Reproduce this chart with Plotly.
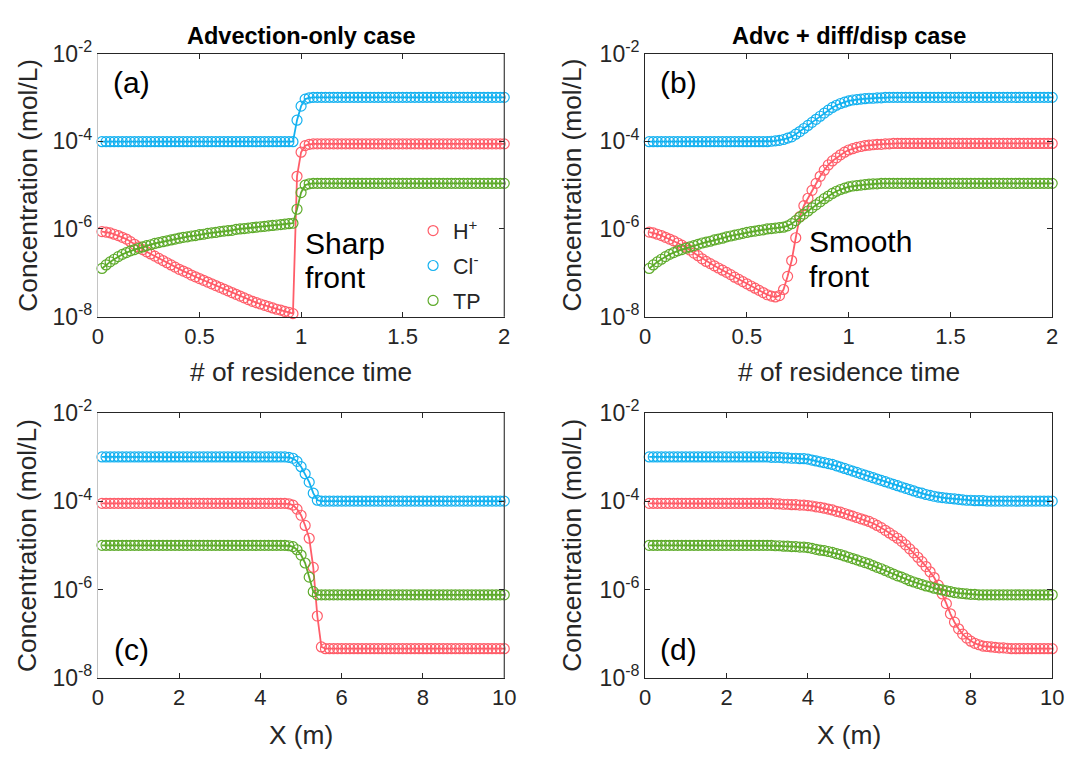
import numpy as np
import plotly.graph_objects as go

# ---------------- data (concentrations read as log10 values) ----------------
# sample positions: residence time (panels a, b) and distance X in m (panels c, d)
x_time = [0.02, 0.04, 0.06, 0.08, 0.10, 0.12, 0.14, 0.16, 0.18, 0.20,
          0.22, 0.24, 0.26, 0.28, 0.30, 0.32, 0.34, 0.36, 0.38, 0.40,
          0.42, 0.44, 0.46, 0.48, 0.50, 0.52, 0.54, 0.56, 0.58, 0.60,
          0.62, 0.64, 0.66, 0.68, 0.70, 0.72, 0.74, 0.76, 0.78, 0.80,
          0.82, 0.84, 0.86, 0.88, 0.90, 0.92, 0.94, 0.96, 0.98, 1.00,
          1.02, 1.04, 1.06, 1.08, 1.10, 1.12, 1.14, 1.16, 1.18, 1.20,
          1.22, 1.24, 1.26, 1.28, 1.30, 1.32, 1.34, 1.36, 1.38, 1.40,
          1.42, 1.44, 1.46, 1.48, 1.50, 1.52, 1.54, 1.56, 1.58, 1.60,
          1.62, 1.64, 1.66, 1.68, 1.70, 1.72, 1.74, 1.76, 1.78, 1.80,
          1.82, 1.84, 1.86, 1.88, 1.90, 1.92, 1.94, 1.96, 1.98, 2.00]

x_dist = [0.1, 0.2, 0.3, 0.4, 0.5, 0.6, 0.7, 0.8, 0.9, 1.0,
          1.1, 1.2, 1.3, 1.4, 1.5, 1.6, 1.7, 1.8, 1.9, 2.0,
          2.1, 2.2, 2.3, 2.4, 2.5, 2.6, 2.7, 2.8, 2.9, 3.0,
          3.1, 3.2, 3.3, 3.4, 3.5, 3.6, 3.7, 3.8, 3.9, 4.0,
          4.1, 4.2, 4.3, 4.4, 4.5, 4.6, 4.7, 4.8, 4.9, 5.0,
          5.1, 5.2, 5.3, 5.4, 5.5, 5.6, 5.7, 5.8, 5.9, 6.0,
          6.1, 6.2, 6.3, 6.4, 6.5, 6.6, 6.7, 6.8, 6.9, 7.0,
          7.1, 7.2, 7.3, 7.4, 7.5, 7.6, 7.7, 7.8, 7.9, 8.0,
          8.1, 8.2, 8.3, 8.4, 8.5, 8.6, 8.7, 8.8, 8.9, 9.0,
          9.1, 9.2, 9.3, 9.4, 9.5, 9.6, 9.7, 9.8, 9.9, 10.0]

# (a) advection-only, vs residence time
h_a_log10 = [-6.06, -6.07, -6.09, -6.12, -6.15, -6.19, -6.23, -6.29, -6.35, -6.41,
             -6.47, -6.52, -6.57, -6.62, -6.67, -6.72, -6.77, -6.82, -6.87, -6.92,
             -6.96, -7.00, -7.05, -7.09, -7.13, -7.17, -7.21, -7.25, -7.29, -7.33,
             -7.37, -7.41, -7.45, -7.49, -7.53, -7.57, -7.61, -7.65, -7.68, -7.71,
             -7.74, -7.77, -7.80, -7.83, -7.85, -7.88, -7.90, -7.93, -4.80, -4.25,
             -4.10, -4.07, -4.06, -4.06, -4.06, -4.06, -4.06, -4.06, -4.06, -4.06,
             -4.06, -4.06, -4.06, -4.06, -4.06, -4.06, -4.06, -4.06, -4.06, -4.06,
             -4.06, -4.06, -4.06, -4.06, -4.06, -4.06, -4.06, -4.06, -4.06, -4.06,
             -4.06, -4.06, -4.06, -4.06, -4.06, -4.06, -4.06, -4.06, -4.06, -4.06,
             -4.06, -4.06, -4.06, -4.06, -4.06, -4.06, -4.06, -4.06, -4.06, -4.06]
cl_a_log10 = [-4.01, -4.01, -4.01, -4.01, -4.01, -4.01, -4.01, -4.01, -4.01, -4.01,
              -4.01, -4.01, -4.01, -4.01, -4.01, -4.01, -4.01, -4.01, -4.01, -4.01,
              -4.01, -4.01, -4.01, -4.01, -4.01, -4.01, -4.01, -4.01, -4.01, -4.01,
              -4.01, -4.01, -4.01, -4.01, -4.01, -4.01, -4.01, -4.01, -4.01, -4.01,
              -4.01, -4.01, -4.01, -4.01, -4.01, -4.01, -4.01, -4.01, -3.52, -3.20,
              -3.04, -3.01, -3.00, -3.00, -3.00, -3.00, -3.00, -3.00, -3.00, -3.00,
              -3.00, -3.00, -3.00, -3.00, -3.00, -3.00, -3.00, -3.00, -3.00, -3.00,
              -3.00, -3.00, -3.00, -3.00, -3.00, -3.00, -3.00, -3.00, -3.00, -3.00,
              -3.00, -3.00, -3.00, -3.00, -3.00, -3.00, -3.00, -3.00, -3.00, -3.00,
              -3.00, -3.00, -3.00, -3.00, -3.00, -3.00, -3.00, -3.00, -3.00, -3.00]
tp_a_log10 = [-6.90, -6.82, -6.75, -6.69, -6.63, -6.58, -6.54, -6.50, -6.47, -6.44,
              -6.41, -6.38, -6.36, -6.33, -6.31, -6.29, -6.27, -6.25, -6.23, -6.21,
              -6.19, -6.18, -6.16, -6.15, -6.13, -6.12, -6.10, -6.09, -6.08, -6.06,
              -6.05, -6.04, -6.03, -6.01, -6.00, -5.99, -5.98, -5.97, -5.96, -5.95,
              -5.94, -5.93, -5.92, -5.91, -5.90, -5.89, -5.88, -5.87, -5.55, -5.17,
              -5.00, -4.97, -4.96, -4.96, -4.96, -4.96, -4.96, -4.96, -4.96, -4.96,
              -4.96, -4.96, -4.96, -4.96, -4.96, -4.96, -4.96, -4.96, -4.96, -4.96,
              -4.96, -4.96, -4.96, -4.96, -4.96, -4.96, -4.96, -4.96, -4.96, -4.96,
              -4.96, -4.96, -4.96, -4.96, -4.96, -4.96, -4.96, -4.96, -4.96, -4.96,
              -4.96, -4.96, -4.96, -4.96, -4.96, -4.96, -4.96, -4.96, -4.96, -4.96]

# (b) advection + diffusion/dispersion, vs residence time
h_b_log10 = [-6.07, -6.09, -6.12, -6.15, -6.19, -6.23, -6.27, -6.32, -6.37, -6.42,
             -6.48, -6.55, -6.61, -6.68, -6.74, -6.79, -6.84, -6.89, -6.94, -6.99,
             -7.04, -7.10, -7.15, -7.20, -7.25, -7.30, -7.35, -7.40, -7.45, -7.50,
             -7.53, -7.55, -7.52, -7.38, -7.08, -6.72, -6.20, -5.72, -5.47, -5.30,
             -5.12, -4.96, -4.80, -4.66, -4.54, -4.45, -4.38, -4.31, -4.25, -4.20,
             -4.17, -4.14, -4.12, -4.10, -4.09, -4.08, -4.07, -4.07, -4.06, -4.06,
             -4.05, -4.05, -4.05, -4.05, -4.05, -4.05, -4.05, -4.05, -4.05, -4.05,
             -4.05, -4.05, -4.05, -4.05, -4.05, -4.05, -4.05, -4.05, -4.05, -4.05,
             -4.05, -4.05, -4.05, -4.05, -4.05, -4.05, -4.05, -4.05, -4.05, -4.05,
             -4.05, -4.05, -4.05, -4.05, -4.05, -4.05, -4.05, -4.05, -4.05, -4.05]
cl_b_log10 = [-4.01, -4.01, -4.01, -4.01, -4.01, -4.01, -4.01, -4.01, -4.01, -4.01,
              -4.01, -4.01, -4.01, -4.01, -4.01, -4.01, -4.01, -4.01, -4.01, -4.01,
              -4.01, -4.01, -4.01, -4.01, -4.01, -4.01, -4.01, -4.01, -4.01, -4.01,
              -4.00, -3.99, -3.98, -3.96, -3.93, -3.90, -3.84, -3.78, -3.71, -3.64,
              -3.57, -3.50, -3.43, -3.36, -3.29, -3.23, -3.18, -3.14, -3.11, -3.08,
              -3.06, -3.05, -3.04, -3.03, -3.02, -3.02, -3.01, -3.01, -3.00, -3.00,
              -3.00, -3.00, -3.00, -3.00, -3.00, -3.00, -3.00, -3.00, -3.00, -3.00,
              -3.00, -3.00, -3.00, -3.00, -3.00, -3.00, -3.00, -3.00, -3.00, -3.00,
              -3.00, -3.00, -3.00, -3.00, -3.00, -3.00, -3.00, -3.00, -3.00, -3.00,
              -3.00, -3.00, -3.00, -3.00, -3.00, -3.00, -3.00, -3.00, -3.00, -3.00]
tp_b_log10 = [-6.90, -6.82, -6.75, -6.69, -6.63, -6.58, -6.54, -6.50, -6.47, -6.44,
              -6.41, -6.38, -6.35, -6.32, -6.30, -6.28, -6.25, -6.23, -6.21, -6.18,
              -6.16, -6.14, -6.12, -6.10, -6.08, -6.06, -6.05, -6.03, -6.02, -6.00,
              -5.99, -5.98, -5.97, -5.96, -5.93, -5.88, -5.81, -5.73, -5.66, -5.59,
              -5.52, -5.45, -5.38, -5.31, -5.25, -5.19, -5.14, -5.10, -5.07, -5.04,
              -5.02, -5.01, -5.00, -4.99, -4.98, -4.97, -4.97, -4.96, -4.96, -4.96,
              -4.96, -4.96, -4.96, -4.96, -4.96, -4.96, -4.96, -4.96, -4.96, -4.96,
              -4.96, -4.96, -4.96, -4.96, -4.96, -4.96, -4.96, -4.96, -4.96, -4.96,
              -4.96, -4.96, -4.96, -4.96, -4.96, -4.96, -4.96, -4.96, -4.96, -4.96,
              -4.96, -4.96, -4.96, -4.96, -4.96, -4.96, -4.96, -4.96, -4.96, -4.96]

# (c) advection-only, vs X
h_c_log10 = [-4.05, -4.05, -4.05, -4.05, -4.05, -4.05, -4.05, -4.05, -4.05, -4.05,
             -4.05, -4.05, -4.05, -4.05, -4.05, -4.05, -4.05, -4.05, -4.05, -4.05,
             -4.05, -4.05, -4.05, -4.05, -4.05, -4.05, -4.05, -4.05, -4.05, -4.05,
             -4.05, -4.05, -4.05, -4.05, -4.05, -4.05, -4.05, -4.05, -4.05, -4.05,
             -4.05, -4.05, -4.05, -4.05, -4.05, -4.05, -4.06, -4.09, -4.18, -4.32,
             -4.55, -4.84, -5.50, -6.60, -7.30, -7.34, -7.34, -7.34, -7.34, -7.34,
             -7.34, -7.34, -7.34, -7.34, -7.34, -7.34, -7.34, -7.34, -7.34, -7.34,
             -7.34, -7.34, -7.34, -7.34, -7.34, -7.34, -7.34, -7.34, -7.34, -7.34,
             -7.34, -7.34, -7.34, -7.34, -7.34, -7.34, -7.34, -7.34, -7.34, -7.34,
             -7.34, -7.34, -7.34, -7.34, -7.34, -7.34, -7.34, -7.34, -7.34, -7.34]
cl_c_log10 = [-3.00, -3.00, -3.00, -3.00, -3.00, -3.00, -3.00, -3.00, -3.00, -3.00,
              -3.00, -3.00, -3.00, -3.00, -3.00, -3.00, -3.00, -3.00, -3.00, -3.00,
              -3.00, -3.00, -3.00, -3.00, -3.00, -3.00, -3.00, -3.00, -3.00, -3.00,
              -3.00, -3.00, -3.00, -3.00, -3.00, -3.00, -3.00, -3.00, -3.00, -3.00,
              -3.00, -3.00, -3.00, -3.00, -3.00, -3.00, -3.01, -3.03, -3.10, -3.22,
              -3.38, -3.57, -3.82, -3.98, -4.00, -4.00, -4.00, -4.00, -4.00, -4.00,
              -4.00, -4.00, -4.00, -4.00, -4.00, -4.00, -4.00, -4.00, -4.00, -4.00,
              -4.00, -4.00, -4.00, -4.00, -4.00, -4.00, -4.00, -4.00, -4.00, -4.00,
              -4.00, -4.00, -4.00, -4.00, -4.00, -4.00, -4.00, -4.00, -4.00, -4.00,
              -4.00, -4.00, -4.00, -4.00, -4.00, -4.00, -4.00, -4.00, -4.00, -4.00]
tp_c_log10 = [-5.00, -5.00, -5.00, -5.00, -5.00, -5.00, -5.00, -5.00, -5.00, -5.00,
              -5.00, -5.00, -5.00, -5.00, -5.00, -5.00, -5.00, -5.00, -5.00, -5.00,
              -5.00, -5.00, -5.00, -5.00, -5.00, -5.00, -5.00, -5.00, -5.00, -5.00,
              -5.00, -5.00, -5.00, -5.00, -5.00, -5.00, -5.00, -5.00, -5.00, -5.00,
              -5.00, -5.00, -5.00, -5.00, -5.00, -5.00, -5.01, -5.03, -5.10, -5.22,
              -5.40, -5.72, -6.05, -6.12, -6.12, -6.12, -6.12, -6.12, -6.12, -6.12,
              -6.12, -6.12, -6.12, -6.12, -6.12, -6.12, -6.12, -6.12, -6.12, -6.12,
              -6.12, -6.12, -6.12, -6.12, -6.12, -6.12, -6.12, -6.12, -6.12, -6.12,
              -6.12, -6.12, -6.12, -6.12, -6.12, -6.12, -6.12, -6.12, -6.12, -6.12,
              -6.12, -6.12, -6.12, -6.12, -6.12, -6.12, -6.12, -6.12, -6.12, -6.12]

# (d) advection + diffusion/dispersion, vs X
h_d_log10 = [-4.05, -4.05, -4.05, -4.05, -4.05, -4.05, -4.05, -4.05, -4.05, -4.05,
             -4.05, -4.05, -4.05, -4.05, -4.05, -4.05, -4.05, -4.05, -4.05, -4.05,
             -4.05, -4.05, -4.05, -4.05, -4.05, -4.05, -4.05, -4.05, -4.05, -4.05,
             -4.05, -4.06, -4.06, -4.07, -4.07, -4.08, -4.08, -4.09, -4.09, -4.10,
             -4.11, -4.13, -4.14, -4.16, -4.18, -4.20, -4.23, -4.25, -4.28, -4.31,
             -4.34, -4.37, -4.40, -4.43, -4.46, -4.50, -4.55, -4.60, -4.66, -4.72,
             -4.78, -4.84, -4.91, -4.99, -5.08, -5.17, -5.27, -5.37, -5.48, -5.60,
             -5.73, -5.90, -6.10, -6.32, -6.55, -6.74, -6.89, -7.01, -7.10, -7.17,
             -7.22, -7.25, -7.28, -7.29, -7.30, -7.31, -7.32, -7.32, -7.33, -7.34,
             -7.34, -7.34, -7.34, -7.34, -7.34, -7.34, -7.34, -7.34, -7.34, -7.34]
cl_d_log10 = [-3.00, -3.00, -3.00, -3.00, -3.00, -3.00, -3.00, -3.00, -3.00, -3.00,
              -3.00, -3.00, -3.00, -3.00, -3.00, -3.00, -3.00, -3.00, -3.00, -3.00,
              -3.00, -3.00, -3.00, -3.00, -3.00, -3.00, -3.00, -3.00, -3.00, -3.00,
              -3.01, -3.01, -3.01, -3.02, -3.02, -3.03, -3.03, -3.04, -3.04, -3.05,
              -3.07, -3.09, -3.11, -3.13, -3.15, -3.17, -3.20, -3.23, -3.26, -3.29,
              -3.32, -3.35, -3.38, -3.41, -3.44, -3.47, -3.50, -3.53, -3.56, -3.59,
              -3.62, -3.65, -3.68, -3.71, -3.74, -3.77, -3.80, -3.82, -3.85, -3.87,
              -3.89, -3.91, -3.92, -3.93, -3.94, -3.95, -3.96, -3.97, -3.98, -3.98,
              -3.99, -3.99, -3.99, -4.00, -4.00, -4.00, -4.00, -4.00, -4.00, -4.00,
              -4.00, -4.00, -4.00, -4.00, -4.00, -4.00, -4.00, -4.00, -4.00, -4.00]
tp_d_log10 = [-5.00, -5.00, -5.00, -5.00, -5.00, -5.00, -5.00, -5.00, -5.00, -5.00,
              -5.00, -5.00, -5.00, -5.00, -5.00, -5.00, -5.00, -5.00, -5.00, -5.00,
              -5.00, -5.00, -5.00, -5.00, -5.00, -5.00, -5.00, -5.00, -5.00, -5.00,
              -5.00, -5.01, -5.01, -5.02, -5.02, -5.03, -5.03, -5.04, -5.04, -5.05,
              -5.07, -5.09, -5.11, -5.12, -5.14, -5.16, -5.19, -5.21, -5.24, -5.27,
              -5.30, -5.33, -5.36, -5.39, -5.42, -5.46, -5.50, -5.53, -5.57, -5.61,
              -5.65, -5.69, -5.72, -5.76, -5.80, -5.83, -5.86, -5.89, -5.92, -5.94,
              -5.97, -5.99, -6.01, -6.03, -6.05, -6.07, -6.08, -6.09, -6.10, -6.11,
              -6.11, -6.12, -6.12, -6.12, -6.12, -6.12, -6.12, -6.12, -6.12, -6.12,
              -6.12, -6.12, -6.12, -6.12, -6.12, -6.12, -6.12, -6.12, -6.12, -6.12]

series_names = ["H<sup>+</sup>", "Cl<sup>-</sup>", "TP"]
series_colors = ["#FF5D69", "#14B1F0", "#5EAB2B"]

y_tickvals = [1e-8, 1e-6, 1e-4, 1e-2]
y_ticktext = ["10<sup>-8</sup>", "10<sup>-6</sup>", "10<sup>-4</sup>", "10<sup>-2</sup>"]
x_time_ticks = [0, 0.5, 1, 1.5, 2]
x_time_text = ["0", "0.5", "1", "1.5", "2"]
x_dist_ticks = [0, 2, 4, 6, 8, 10]
x_dist_text = ["0", "2", "4", "6", "8", "10"]

# ---------------- figure ----------------
FONT = "Arial, Liberation Sans, Helvetica, sans-serif"
INK = "#262626"
W, H = 1076, 761

panels = [
    (x_time, [h_a_log10, cl_a_log10, tp_a_log10], ""),
    (x_time, [h_b_log10, cl_b_log10, tp_b_log10], "2"),
    (x_dist, [h_c_log10, cl_c_log10, tp_c_log10], "3"),
    (x_dist, [h_d_log10, cl_d_log10, tp_d_log10], "4"),
]

fig = go.Figure()
for p, (xs, ys_list, sfx) in enumerate(panels):
    for k, ylog in enumerate(ys_list):
        conc = 10.0 ** np.array(ylog)
        fig.add_trace(go.Scatter(
            x=xs, y=conc, mode="lines",
            line=dict(color=series_colors[k], width=1.8),
            xaxis="x" + sfx, yaxis="y" + sfx, legendgroup="s%d" % k,
            showlegend=False, hoverinfo="skip", cliponaxis=False))
        fig.add_trace(go.Scatter(
            x=xs, y=conc, mode="markers", name=series_names[k],
            marker=dict(symbol="circle-open", size=10, color=series_colors[k],
                        line=dict(width=1.2, color=series_colors[k])),
            xaxis="x" + sfx, yaxis="y" + sfx, legendgroup="s%d" % k,
            showlegend=(p == 0), cliponaxis=False))

# axis boxes in pixels
left_x = [93.5, 506.7]
right_x = [650, 1064]
top_y = [38, 312]
bot_y = [412, 688]


def xdom(px):
    return [px[0] / W, px[1] / W]


def ydom(py):
    return [1 - py[1] / H, 1 - py[0] / H]


def xaxis_cfg(dom, anchor, rng, tv, tt):
    return dict(domain=dom, anchor=anchor, range=rng, tickvals=tv, ticktext=tt,
                showline=True, linecolor=INK, linewidth=1, mirror="ticks",
                ticks="inside", ticklen=5, tickwidth=1, tickcolor=INK,
                showgrid=False, zeroline=False,
                tickfont=dict(family=FONT, size=22, color=INK))


def yaxis_cfg(dom, anchor, linecolor):
    return dict(domain=dom, anchor=anchor, type="log", range=[-8, -2],
                tickvals=y_tickvals, ticktext=y_ticktext,
                showline=True, linecolor=linecolor, linewidth=1, mirror="ticks",
                ticks="inside", ticklen=5, tickwidth=1, tickcolor=INK,
                showgrid=False, zeroline=False,
                tickfont=dict(family=FONT, size=23, color=INK))


fig.update_layout(
    width=W, height=H,
    margin=dict(l=0, r=0, t=0, b=0),
    paper_bgcolor="white", plot_bgcolor="white",
    font=dict(family=FONT, color=INK),
    xaxis=xaxis_cfg(xdom(left_x), "y", [0, 2], x_time_ticks, x_time_text),
    yaxis=yaxis_cfg(ydom(top_y), "x", "#C4C4C4"),
    xaxis2=xaxis_cfg(xdom(right_x), "y2", [0, 2], x_time_ticks, x_time_text),
    yaxis2=yaxis_cfg(ydom(top_y), "x2", INK),
    xaxis3=xaxis_cfg(xdom(left_x), "y3", [0, 10], x_dist_ticks, x_dist_text),
    yaxis3=yaxis_cfg(ydom(bot_y), "x3", "#C4C4C4"),
    xaxis4=xaxis_cfg(xdom(right_x), "y4", [0, 10], x_dist_ticks, x_dist_text),
    yaxis4=yaxis_cfg(ydom(bot_y), "x4", INK),
    legend=dict(x=414 / W, y=1 - 201 / H, xanchor="left", yanchor="top",
                bgcolor="rgba(0,0,0,0)", borderwidth=0,
                traceorder="grouped", tracegroupgap=4,
                font=dict(family=FONT, size=21.5, color=INK)),
    showlegend=True,
)

# dark right-hand box edge for panels whose left spine is light grey
for sfx in ["", "3"]:
    fig.add_shape(type="line", xref="x" + sfx + " domain", yref="y" + sfx + " domain",
                  x0=1, x1=1, y0=0, y1=1, line=dict(color=INK, width=1))


def px_ann(text, x, y, size, xanchor="center", yanchor="middle", bold=False,
           angle=0, align="center", color="black"):
    if bold:
        text = "<b>" + text + "</b>"
    fig.add_annotation(text=text, xref="paper", yref="paper", x=x / W, y=1 - y / H,
                       xanchor=xanchor, yanchor=yanchor, showarrow=False,
                       textangle=angle, align=align,
                       font=dict(family=FONT, size=size, color=color))


lx_mid = (left_x[0] + left_x[1]) / 2
rx_mid = (right_x[0] + right_x[1]) / 2
# titles
px_ann("Advection-only case", lx_mid, 20, 23.5, bold=True)
px_ann("Advc + diff/disp case", rx_mid, 20, 23.5, bold=True)
# axis titles
for yc in [(top_y[0] + top_y[1]) / 2, (bot_y[0] + bot_y[1]) / 2]:
    px_ann("Concentration (mol/L)", 22, yc, 26.3, angle=-90, color=INK)
    px_ann("Concentration (mol/L)", 576, yc, 26.3, angle=-90, color=INK)
px_ann("# of residence time", lx_mid, 370, 26.3, color=INK)
px_ann("# of residence time", rx_mid, 370, 26.3, color=INK)
px_ann("X (m)", lx_mid, 747, 26.3, color=INK)
px_ann("X (m)", rx_mid, 747, 26.3, color=INK)
# panel labels
px_ann("(a)", 128, 68, 30)
px_ann("(b)", 684, 68, 30)
px_ann("(c)", 128, 658, 30)
px_ann("(d)", 684, 658, 30)
# front annotations
px_ann("Sharp", 302, 236, 30, xanchor="left")
px_ann("front", 302, 271, 30, xanchor="left")
px_ann("Smooth", 815, 234, 30, xanchor="left")
px_ann("front", 815, 270, 30, xanchor="left")

fig.write_html("out.html")
